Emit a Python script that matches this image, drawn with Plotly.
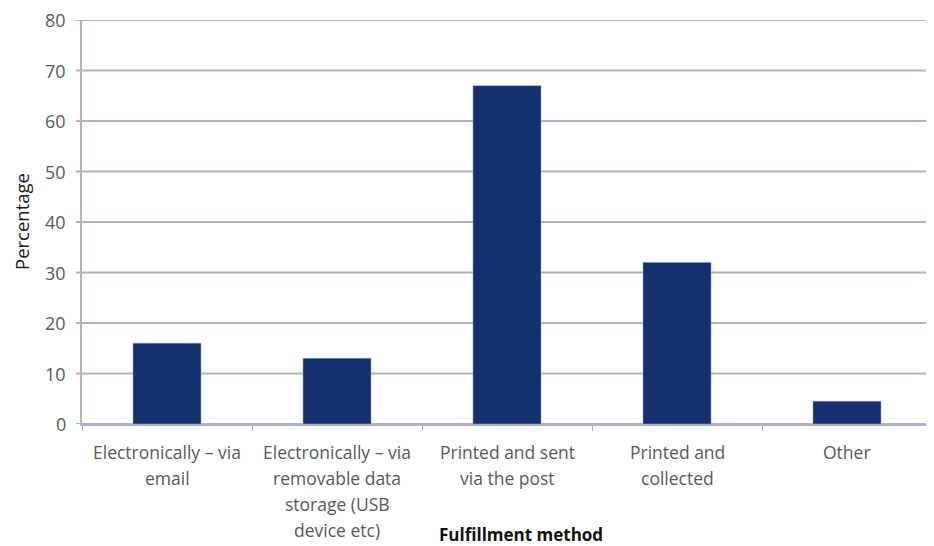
import plotly.graph_objects as go

categories = [
    "Electronically – via email",
    "Electronically – via removable data storage (USB device etc)",
    "Printed and sent via the post",
    "Printed and collected",
    "Other",
]
label_lines = [
    ["Electronically – via", "email"],
    ["Electronically – via", "removable data", "storage (USB", "device etc)"],
    ["Printed and sent", "via the post"],
    ["Printed and", "collected"],
    ["Other"],
]
percentages = [16, 13, 67, 32, 4.5]
y_ticks = [0, 10, 20, 30, 40, 50, 60, 70, 80]

FONT = "Open Sans, Lato, sans-serif"
GREY = "#595959"
GRID = "#aeb2c6"

fig = go.Figure(go.Bar(
    x=categories, y=percentages,
    marker=dict(color="#15316d", line=dict(color="#8e9abb", width=0.6)),
))

annotations = []
shapes = []
for cat, lines in zip(categories, label_lines):
    for i, line in enumerate(lines):
        annotations.append(dict(
            x=cat, xref="x", y=0, yref="paper", yanchor="middle",
            yshift=-(28 + i * 26), text=line, showarrow=False,
            font=dict(family=FONT, size=17.5, color=GREY),
        ))
for v in y_ticks:
    annotations.append(dict(
        x=0, xref="paper", y=v, yref="y", xanchor="right", yanchor="middle",
        xshift=-15, text=str(v), showarrow=False, borderpad=0,
        font=dict(family=FONT, size=18, color=GREY),
    ))
    # gridline
    shapes.append(dict(
        type="line", xref="paper", yref="y", x0=0, x1=1, y0=v, y1=v,
        line=dict(color=GRID, width=2), layer="below",
    ))
    # tick mark
    shapes.append(dict(
        type="line", xref="paper", yref="y", xsizemode="pixel", xanchor=0,
        x0=-6, x1=0, y0=v, y1=v, line=dict(color=GRID, width=2),
    ))
annotations.append(dict(
    x=0.5, xref="paper", y=0, yref="paper", yanchor="middle",
    xshift=14, yshift=-110, text="<b>Fulfillment method</b>", showarrow=False,
    font=dict(family=FONT, size=17, color="#111111"),
))
annotations.append(dict(
    x=0, xref="paper", y=0.5, yref="paper", xanchor="center", yanchor="middle",
    xshift=-61, text="Percentage", textangle=-90, showarrow=False,
    font=dict(family=FONT, size=18.5, color="#222222"),
))

fig.update_layout(
    width=926, height=540,
    margin=dict(l=74, r=2, t=12, b=124),
    plot_bgcolor="white", paper_bgcolor="white",
    bargap=0.6, showlegend=False,
    annotations=annotations, shapes=shapes,
    xaxis=dict(
        type="category", showticklabels=False, tickson="boundaries",
        ticks="outside", ticklen=5, tickcolor=GRID,
        showline=True, linecolor=GRID, linewidth=2, showgrid=False,
    ),
    yaxis=dict(
        range=[0, 80], showticklabels=False, ticks="",
        showline=True, linecolor=GRID, linewidth=2,
        showgrid=False, zeroline=False,
    ),
)

fig.write_html("out.html")
